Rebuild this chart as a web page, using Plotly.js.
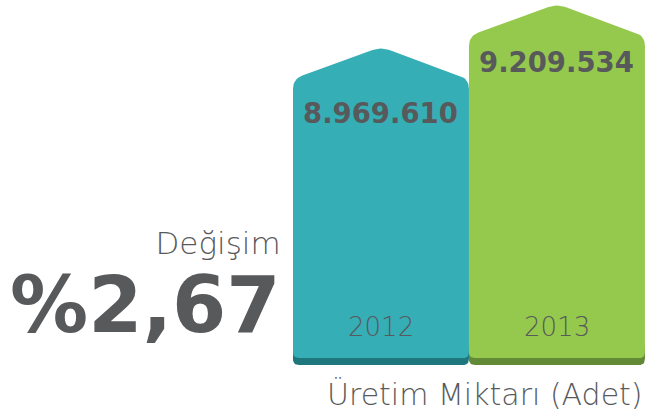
<!DOCTYPE html>
<html>
<head>
<meta charset="utf-8">
<script src="https://cdn.plot.ly/plotly-3.0.1.min.js"></script>
<style>html,body{margin:0;padding:0;background:#fff;}#chart{width:646px;height:416px;}</style>
</head>
<body>
<div id="chart"></div>
<script>
const years = ['2012', '2013'];
const values = [8969610, 9209534];
const valueLabels = ['8.969.610', '9.209.534'];
const changeTitle = 'Değişim';
const changeLabel = '%2,67';
const axisTitle = 'Üretim Miktarı (Adet)';
const colors = ['#36aeb6', '#95c94d'];
const darkColors = ['#1d777c', '#618936'];

const W = 646, H = 416;
const xRange = [-2.165, 1.506];
const yRange = [6910739, 9231852];
const ux = (xRange[1] - xRange[0]) / W;   // data units per px
const uy = (yRange[1] - yRange[0]) / H;
const base = yRange[0] + (H - 358) * uy;  // bar base level
const roof = 32 * uy;                     // roof height
const half = 0.5;

function toPx(p) { return [p[0] / ux, p[1] / uy]; }
function toData(p) { return [p[0] * ux, p[1] * uy]; }

// polygon with rounded corners; corners: [[x,y,radiusPx],...] in data units
function rounded(corners) {
  const xs = [], ys = [];
  const n = corners.length;
  for (let i = 0; i < n; i++) {
    const prev = toPx(corners[(i - 1 + n) % n]);
    const cur = toPx(corners[i]);
    const next = toPx(corners[(i + 1) % n]);
    const r = corners[i][2];
    const d1 = Math.hypot(prev[0] - cur[0], prev[1] - cur[1]);
    const d2 = Math.hypot(next[0] - cur[0], next[1] - cur[1]);
    const a = [cur[0] + (prev[0] - cur[0]) * r / d1, cur[1] + (prev[1] - cur[1]) * r / d1];
    const b = [cur[0] + (next[0] - cur[0]) * r / d2, cur[1] + (next[1] - cur[1]) * r / d2];
    const steps = 8;
    for (let k = 0; k <= steps; k++) {
      const t = k / steps;
      const px = (1 - t) * (1 - t) * a[0] + 2 * (1 - t) * t * cur[0] + t * t * b[0];
      const py = (1 - t) * (1 - t) * a[1] + 2 * (1 - t) * t * cur[1] + t * t * b[1];
      const d = toData([px, py]);
      xs.push(d[0]); ys.push(d[1]);
    }
  }
  xs.push(xs[0]); ys.push(ys[0]);
  return { x: xs, y: ys };
}

const traces = [];
values.forEach((v, i) => {
  const xl = i - half, xr = i + half;
  const top = base + 12 * uy, bot = base - 7 * uy;
  const dark = rounded([[xl, top, 0.1], [xr, top, 0.1], [xr, bot, 6], [xl, bot, 6]]);
  traces.push({ type: 'scatter', mode: 'lines', x: dark.x, y: dark.y, fill: 'toself',
    fillcolor: darkColors[i], line: { width: 0, color: darkColors[i] }, hoverinfo: 'skip', name: years[i] + ' base' });
  const body = rounded([[xl, base, 6], [xl, v - roof, 10], [i, v, 9], [xr, v - roof, 10], [xr, base, 6]]);
  traces.push({ type: 'scatter', mode: 'lines', x: body.x, y: body.y, fill: 'toself',
    fillcolor: colors[i], line: { width: 0, color: colors[i] }, hoverinfo: 'skip', name: years[i] });
});

const grey = '#58595b';
const light = { family: 'DejaVu Sans', color: grey, weight: 200 };
const labelShift = [-66, -58];
const annotations = [];
values.forEach((v, i) => {
  annotations.push({ x: i, y: v, xref: 'x', yref: 'y', text: '<b>' + valueLabels[i] + '</b>', showarrow: false,
    yshift: labelShift[i], xanchor: 'center', yanchor: 'middle',
    font: { family: 'DejaVu Sans', size: 27.5, color: grey } });
  annotations.push({ x: i, y: base, xref: 'x', yref: 'y', text: years[i], showarrow: false,
    yshift: 31, xanchor: 'center', yanchor: 'middle',
    font: Object.assign({ size: 26 }, light) });
});
annotations.push({ x: 283 / W, y: 1 - 287 / H, xref: 'paper', yref: 'paper',
  text: '<span style="font-size:31px;font-weight:200">' + changeTitle + '</span><br>' +
        '<span style="font-size:78px;font-weight:bold">' + changeLabel + '</span>',
  showarrow: false, align: 'right', xanchor: 'right', yanchor: 'middle',
  font: { family: 'DejaVu Sans', size: 60, color: grey } });
annotations.push({ x: 645 / W, y: 1 - 394 / H, xref: 'paper', yref: 'paper', text: axisTitle, showarrow: false,
  xanchor: 'right', yanchor: 'middle', font: Object.assign({ size: 30 }, light) });

const layout = {
  width: W, height: H,
  margin: { l: 0, r: 0, t: 0, b: 0, pad: 0 },
  paper_bgcolor: '#ffffff', plot_bgcolor: '#ffffff',
  showlegend: false,
  xaxis: { range: xRange, visible: false, fixedrange: true },
  yaxis: { range: yRange, visible: false, fixedrange: true },
  annotations: annotations
};
Plotly.newPlot('chart', traces, layout, { displayModeBar: false, staticPlot: true });
</script>
</body>
</html>
